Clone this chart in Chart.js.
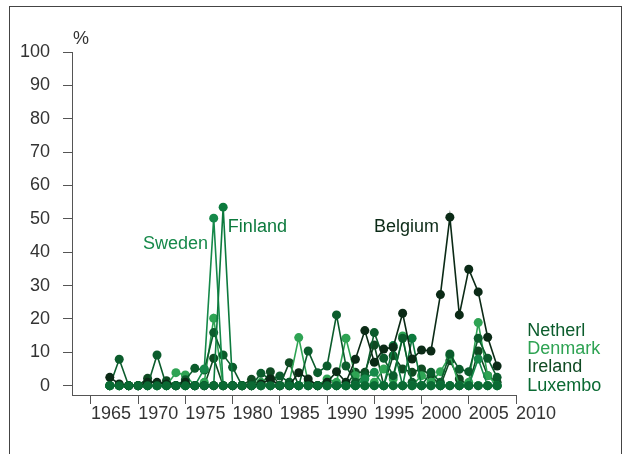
<!DOCTYPE html>
<html>
<head>
<meta charset="utf-8">
<script src="https://cdn.jsdelivr.net/npm/chart.js@4"></script>
<style>
  body{margin:0;background:#fff;}
  #wrap{position:relative;width:633px;height:454px;}
</style>
</head>
<body>
<div id="wrap"><canvas id="chart" width="633" height="454"></canvas></div>
<script>
// years 1965 - 2006
const years = [1965,1966,1967,1968,1969,1970,1971,1972,1973,1974,1975,1976,1977,1978,1979,1980,1981,1982,1983,1984,1985,1986,1987,1988,1989,1990,1991,1992,1993,1994,1995,1996,1997,1998,1999,2000,2001,2002,2003,2004,2005,2006];

const belgium     = [2.5,0.5,0,0,1,1,0.5,0,1,0,0,0,0,0,0,0,0.5,2,0,0,3.9,2,0,1,4.2,1,7.9,16.5,7,11,11.5,21.7,8,10.7,10.4,27.3,50.5,21.2,34.9,28.1,14.5,5.9];
const netherlands = [0,7.9,0,0,0,9.2,0,0,1.8,5.2,4.7,15.9,9.2,5.5,0,0,3.7,1.9,2.9,1,0,10.4,3.9,5.9,21.2,5.9,1,3,15.9,8.2,3,14.2,1,0,4,1,9.5,4.9,4.2,14.2,8.2,2.5];
const denmark     = [0,0,0,0,0,0,0,3.9,3.2,0,1,20.2,0,0,0,0,1,0,0,1,14.4,1,0,2,1,14.2,3,0,1,5,2,14.9,0,3,1,4.2,9,0,1,18.9,3,0];
const ireland     = [0,0,0,0,2.2,0,1.5,0,0,0,0,8.2,0,0,0,1.9,0,4.2,0,6.9,0,0,0,0,0,0,4,4,12.2,0,9,5,4,5,3,0,7.5,2,0,10.4,3,1];
const luxembourg  = [0,0,0,0,0,0,0,0,0,0,0,0,0,0,0,0,0,0,0,0,0,0,0,0,0,0,0,0,0,0,0,0,0,0,0,0,0,0,0,0,0,0];
const sweden      = [0,0,0,0,0,0,0,0,0,0,5,50.2,0,0,0,0,0,0,0,0,0,0,0,0,0,0,0,2,4,0,0,0,0,0,0,0,0,0,0,8,0,0];
const finland     = [0,0,0,0,0,0,0,0,0,0,0,0,53.5,0,0,0,0,0,0,0,0,0,0,0,0,0,0,0,0,0,12,0,14.2,0,0,0,0,0,0,0,0,0];

const yTicks = [0,10,20,30,40,50,60,70,80,90,100];
const xTicks = [1963,1968,1973,1978,1983,1988,1993,1998,2003,2008];
const xTickLabels = ['1965','1970','1975','1980','1985','1990','1995','2000','2005','2010'];

const seriesNames  = ['Belgium','Sweden','Finland','Netherl','Denmark','Ireland','Luxembo'];
const seriesData   = [belgium, sweden, finland, netherlands, denmark, ireland, luxembourg];
const seriesColors = ['#0b2a16','#16894a','#0c7a3d','#0b5c2c','#2ea353','#0f4a22','#0a6a33'];

// label anchors in data space [x, y]
const labelAnchors = {
  Sweden:  [1975.4, 42.5, 'right'],
  Finland: [1977.5, 47.5, 'left'],
  Belgium: [1996.4, 47.5, 'center'],
  Netherl: [2009.2, 16.5, 'left'],
  Denmark: [2009.2, 11, 'left'],
  Ireland: [2009.2, 5.5, 'left'],
  Luxembo: [2009.2, 0, 'left']
};

const FONT = '"Liberation Sans", Arial, Helvetica, sans-serif';
const AXIS = '#555';

const datasets = seriesNames.map((name, i) => ({
  label: name,
  data: years.map((yr, j) => ({x: yr, y: seriesData[i][j]})),
  borderColor: seriesColors[i],
  backgroundColor: seriesColors[i],
  pointBackgroundColor: seriesColors[i],
  pointBorderColor: seriesColors[i],
  pointRadius: 4.5,
  pointBorderWidth: 0,
  borderWidth: 1.6,
  tension: 0,
  clip: false,
  order: [1,3,2,4,5,6,0][i]
}));

const textPlugin = {
  id: 'texts',
  afterDraw(chart){
    const ctx = chart.ctx;
    const xs = chart.scales.x, ys = chart.scales.y;
    ctx.save();
    // frame
    ctx.strokeStyle = '#444';
    ctx.lineWidth = 1;
    ctx.strokeRect(9.5, 6.5, 612, 470);
    ctx.font = '18px ' + FONT;
    ctx.textBaseline = 'middle';
    ctx.fillStyle = '#333';
    ctx.textAlign = 'center';
    ctx.fillText('%', chart.chartArea.left + 9, chart.chartArea.top - 13);
    seriesNames.forEach((name, i) => {
      const a = labelAnchors[name];
      ctx.fillStyle = seriesColors[i];
      ctx.textAlign = a[2];
      ctx.fillText(name, xs.getPixelForValue(a[0]), ys.getPixelForValue(a[1]));
    });
    ctx.restore();
  }
};

new Chart(document.getElementById('chart'), {
  type: 'line',
  data: {datasets},
  options: {
    responsive: false,
    animation: false,
    devicePixelRatio: 1,
    layout: {padding: {left: 0, top: 52, right: 117, bottom: 0}},
    plugins: {legend: {display: false}, tooltip: {enabled: false}},
    scales: {
      x: {
        type: 'linear',
        min: 1961, max: 2008,
        afterBuildTicks: s => { s.ticks = xTicks.map(v => ({value: v})); },
        afterFit: s => { s.height = 59; },
        grid: {display: true, drawOnChartArea: false, drawTicks: true, tickLength: 9, color: AXIS, lineWidth: 1},
        border: {display: true, color: AXIS, width: 1},
        ticks: {
          align: 'start',
          padding: -1,
          color: '#333',
          font: {family: FONT, size: 18},
          maxRotation: 0,
          autoSkip: false,
          callback: (v, idx) => xTickLabels[idx]
        }
      },
      y: {
        type: 'linear',
        min: -2.8, max: 100,
        afterBuildTicks: s => { s.ticks = yTicks.map(v => ({value: v})); },
        afterFit: s => { s.width = 72; },
        grid: {display: true, drawOnChartArea: false, drawTicks: true, tickLength: 9, color: AXIS, lineWidth: 1},
        border: {display: true, color: AXIS, width: 1},
        ticks: {
          padding: 13,
          color: '#333',
          font: {family: FONT, size: 18},
          autoSkip: false,
          callback: v => String(v)
        }
      }
    }
  },
  plugins: [textPlugin]
});
</script>
</body>
</html>
